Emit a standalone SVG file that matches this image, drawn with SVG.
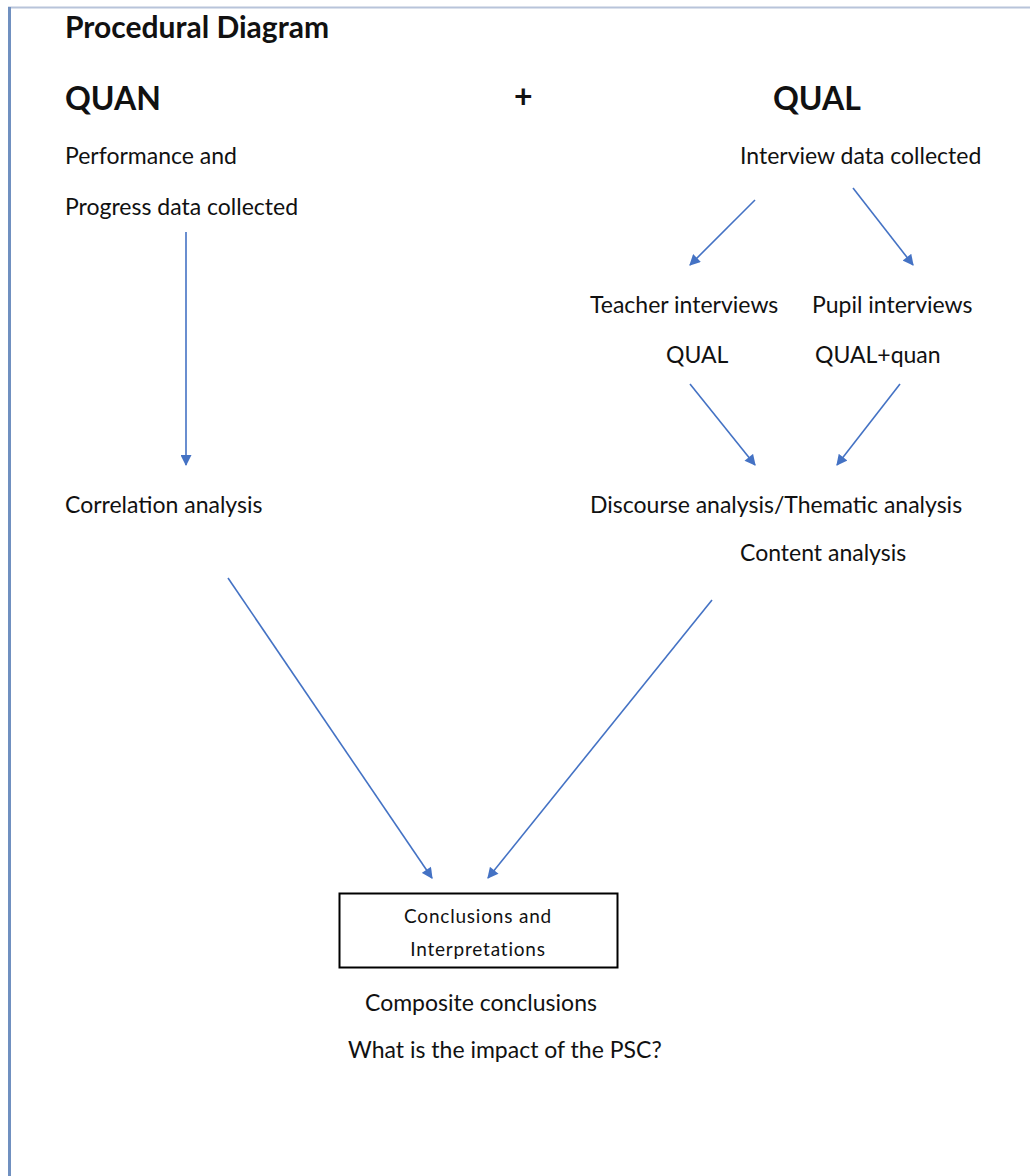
<svg xmlns="http://www.w3.org/2000/svg" width="1030" height="1176" viewBox="0 0 1030 1176">
<defs>
<style>
text{font-family:Lato,"Open Sans","Liberation Sans",sans-serif;fill:#111;}
.t{font-size:23px;}
.h{font-size:30px;font-weight:bold;}
.b{font-size:32px;font-weight:bold;}
.s{font-size:19px;letter-spacing:0.8px;}
.c{stroke:#4472c4;stroke-width:1.6;fill:none;marker-end:url(#ah);}
</style>
<marker id="ah" viewBox="0 0 10 10" refX="9" refY="5" markerWidth="12" markerHeight="11" markerUnits="userSpaceOnUse" orient="auto">
<path d="M0,0 L10,5 L0,10 z" fill="#4472c4"/>
</marker>
</defs>
<rect width="1030" height="1176" fill="#fff"/>
<line x1="8" y1="7.5" x2="1030" y2="7.5" stroke="#b8c4da" stroke-width="2"/>
<line x1="9.5" y1="7" x2="9.5" y2="1176" stroke="#7090c0" stroke-width="3"/>
<g id="title"><text class="h" x="65" y="38">Procedural Diagram</text></g>
<g id="quan"><text class="b" x="65" y="110">QUAN</text></g>
<g id="plus"><text class="b" x="514" y="108">+</text></g>
<g id="qual"><text class="b" x="773" y="110">QUAL</text></g>
<g id="perf"><text class="t" x="65" y="164">Performance and</text><text class="t" x="65" y="215">Progress data collected</text></g>
<g id="interview"><text class="t" x="740" y="164">Interview data collected</text></g>
<g id="teacher"><text class="t" x="590" y="313">Teacher interviews</text><text class="t" x="666" y="363">QUAL</text></g>
<g id="pupil"><text class="t" x="812" y="313">Pupil interviews</text><text class="t" x="815" y="363">QUAL+quan</text></g>
<g id="corr"><text class="t" x="65" y="513">Correlation analysis</text></g>
<g id="discourse"><text class="t" x="590" y="513">Discourse analysis/Thematic analysis</text><text class="t" x="740" y="561">Content analysis</text></g>
<g id="concl">
<rect x="339.5" y="893.5" width="278" height="74" fill="#fff" stroke="#000" stroke-width="2"/>
<text class="s" x="478" y="923" text-anchor="middle">Conclusions and</text>
<text class="s" x="478" y="956" text-anchor="middle">Interpretations</text>
</g>
<g id="composite"><text class="t" x="365" y="1011">Composite conclusions</text><text class="t" x="348" y="1058">What is the impact of the PSC?</text></g>
<g id="connectors">
<line class="c" x1="186" y1="232" x2="186" y2="465"/>
<line class="c" x1="755" y1="200" x2="690" y2="265"/>
<line class="c" x1="853" y1="188" x2="913" y2="265"/>
<line class="c" x1="690" y1="384" x2="755" y2="465"/>
<line class="c" x1="900" y1="384" x2="837" y2="465"/>
<line class="c" x1="228" y1="578" x2="432" y2="878"/>
<line class="c" x1="712" y1="600" x2="488" y2="878"/>
</g>
</svg>
